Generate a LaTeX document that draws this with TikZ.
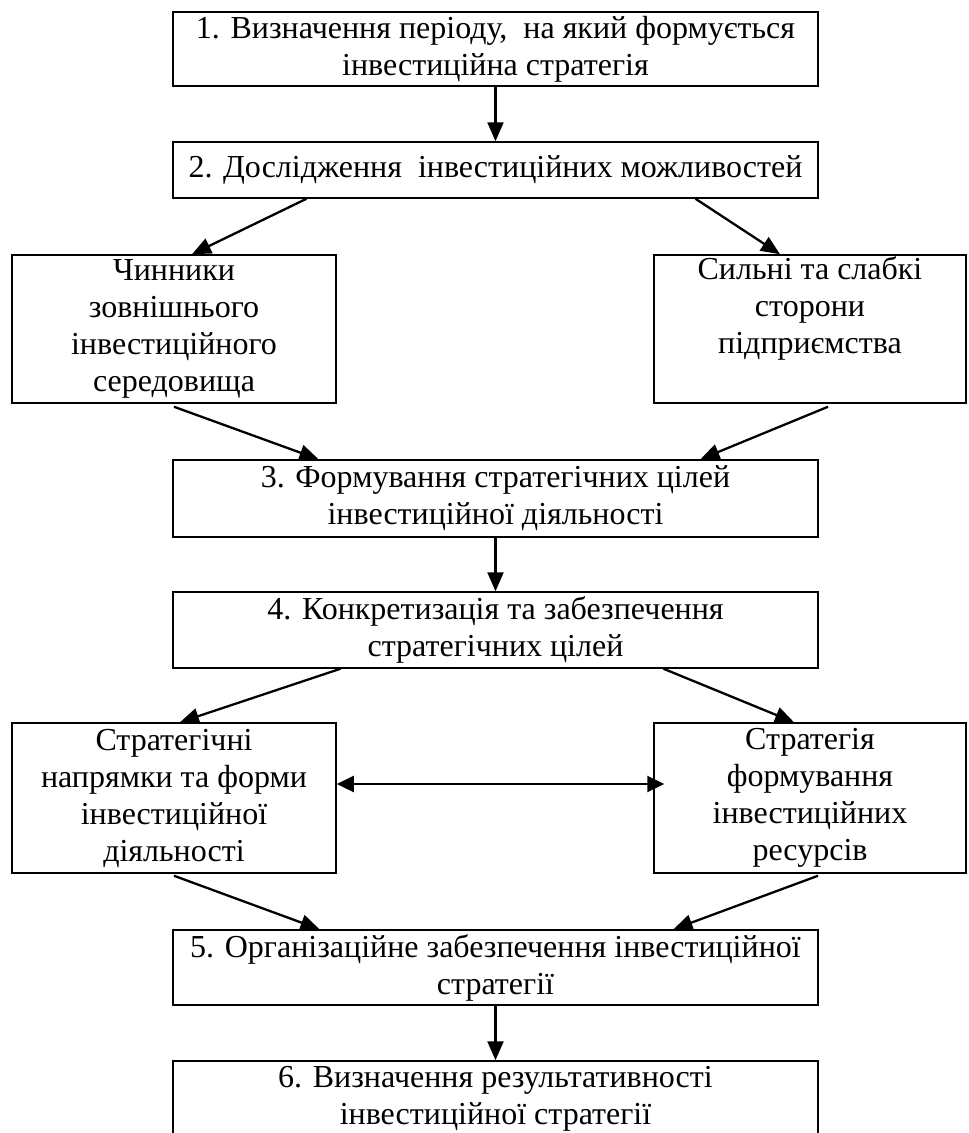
\documentclass[tikz,border=0pt]{standalone}
\usepackage{fontspec}
\setmainfont{Liberation Serif}
\usepackage{tikz}
\usetikzlibrary{arrows.meta}
\tikzset{
  stage/.style={draw, line width=1.5pt, inner sep=0pt, align=center,
    font=\fontsize{32pt}{37pt}\selectfont, minimum width=645pt},
  sidebox/.style={stage, minimum height=150pt},
  flow/.style={line width=2.3pt, -{Triangle[length=19pt,width=16pt]}},
}

\begin{document}
\begin{tikzpicture}[x=1pt, y=-1pt]
        \useasboundingbox (0,0) rectangle (969,1133);
        \clip (0,0) rectangle (969,1133);
        % stages 1 and 2
        \node[stage, minimum height=74pt] (b1) at (495.5,49)
          {1. Визначення періоду, \ на який формується\\інвестиційна стратегія};
        \node[stage, minimum height=56pt] (b2) at (495.5,170)
          {2. Дослідження \ інвестиційних можливостей};
        % factors
        \node[sidebox, minimum width=324pt, minimum height=148pt] (fL) at (174,329)
          {Чинники\\зовнішнього\\інвестиційного\\середовища};
        \node[sidebox, minimum width=312pt, minimum height=148pt] (fR) at (810,329)
          {Сильні та слабкі\\сторони\\підприємства\\\strut};
        % stages 3 and 4
        \node[stage, minimum height=77pt] (b3) at (495.5,498.5)
          {3. Формування стратегічних цілей\\інвестиційної діяльності};
        \node[stage, minimum height=76pt] (b4) at (495.5,630)
          {4. Конкретизація та забезпечення\\стратегічних цілей};
        % strategies
        \node[sidebox, minimum width=324pt] (sL) at (174,798)
          {Стратегічні\\напрямки та форми\\інвестиційної\\діяльності};
        \node[sidebox, minimum width=312pt] (sR) at (810,798)
          {Стратегія\\формування\\інвестиційних\\ресурсів};
        % stages 5 and 6
        \node[stage, minimum height=75pt] (b5) at (495.5,967.5)
          {5. Організаційне забезпечення інвестиційної\\стратегії};
        \node[stage, minimum height=75pt] (b6) at (495.5,1098.5)
          {6. Визначення результативності\\інвестиційної стратегії};
        % arrows
        \draw[flow] (b1) -- (b2);
        \draw[flow] ([xshift=-189pt]b2.south) -- ([xshift=18pt]fL.north);
        \draw[flow] ([xshift=200pt]b2.south) -- ([xshift=-30pt]fR.north);
        \draw[flow] ([yshift=-3pt]fL.south) -- ([xshift=-177pt]b3.north);
        \draw[flow] ([xshift=18pt,yshift=-3pt]fR.south) -- ([xshift=205pt]b3.north);
        \draw[flow] (b3) -- (b4);
        \draw[flow] ([xshift=-155pt]b4.south) -- ([xshift=6pt]sL.north);
        \draw[flow] ([xshift=168pt]b4.south) -- ([xshift=-16pt]sR.north);
        \draw[flow, {Triangle[length=17pt,width=16pt]}-{Triangle[length=17pt,width=16pt]}, shorten >=-11pt]
          ([yshift=14pt]sL.east) -- ([yshift=14pt]sR.west);
        \draw[flow] ([yshift=-2pt]sL.south) -- ([xshift=-176pt]b5.north);
        \draw[flow] ([xshift=8pt,yshift=-2pt]sR.south) -- ([xshift=178pt]b5.north);
        \draw[flow] (b5) -- (b6);
\end{tikzpicture}
\end{document}
